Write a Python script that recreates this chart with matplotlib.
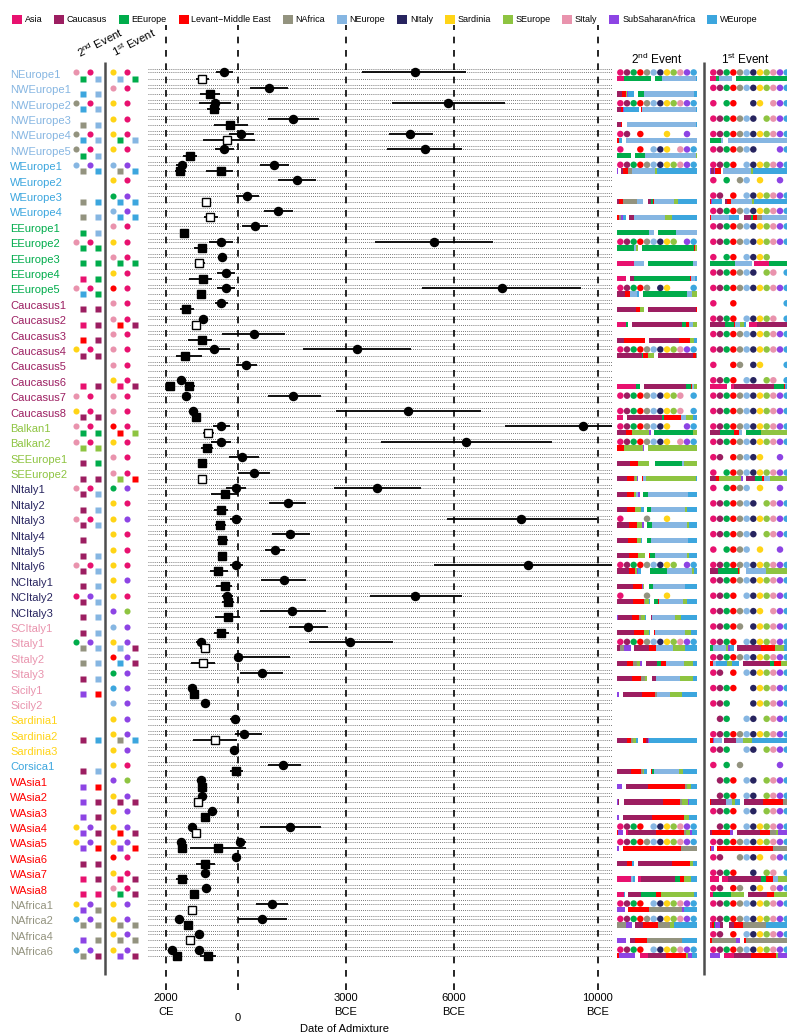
import matplotlib.pyplot as plt
from matplotlib.patches import Patch

plt.rcParams['font.family'] = ['Liberation Sans', 'DejaVu Sans']
plt.rcParams['mathtext.fontset'] = 'custom'
plt.rcParams['mathtext.rm'] = 'Liberation Sans'

# donor regions: one-letter code, legend name, colour
region_code = list('acelnoisgpfw')
region_name = ['Asia', 'Caucasus', 'EEurope', 'Levant\u2212Middle East', 'NAfrica', 'NEurope',
               'NItaly', 'Sardinia', 'SEurope', 'SItaly', 'SubSaharanAfrica', 'WEurope']
region_color = ['#E8116F', '#9C1E61', '#00AC4B', '#FF0000', '#93937F', '#86B6E2',
                '#27245F', '#FFD416', '#8EC441', '#E993AD', '#8D44E4', '#3CA6DE']
col = dict(zip(region_code, region_color))

populations = ['NEurope1', 'NWEurope1', 'NWEurope2', 'NWEurope3', 'NWEurope4', 'NWEurope5',
               'WEurope1', 'WEurope2', 'WEurope3', 'WEurope4',
               'EEurope1', 'EEurope2', 'EEurope3', 'EEurope4', 'EEurope5',
               'Caucasus1', 'Caucasus2', 'Caucasus3', 'Caucasus4', 'Caucasus5', 'Caucasus6',
               'Caucasus7', 'Caucasus8', 'Balkan1', 'Balkan2', 'SEEurope1', 'SEEurope2',
               'NItaly1', 'NItaly2', 'NItaly3', 'NItaly4', 'NItaly5', 'NItaly6',
               'NCItaly1', 'NCItaly2', 'NCItaly3', 'SCItaly1', 'SItaly1', 'SItaly2', 'SItaly3',
               'Sicily1', 'Sicily2', 'Sardinia1', 'Sardinia2', 'Sardinia3', 'Corsica1',
               'WAsia1', 'WAsia2', 'WAsia3', 'WAsia4', 'WAsia5', 'WAsia6', 'WAsia7', 'WAsia8',
               'NAfrica1', 'NAfrica2', 'NAfrica4', 'NAfrica6']
label_region = 'oooooo' + 'wwww' + 'eeeee' + 'cccccccc' + 'gggg' + 'iiiiiiiii' + 'pppppp' + 'sss' + 'w' + 'llllllll' + 'nnnn'

# best-matching sources: circle1 circle2 square1 square2 ('.' = none)
second_src = ['paeo', '..wo', 'nawo', '..no', 'nawo', 'naeo', 'ofnw', '....', '..nw', '..no',
              '..eo', 'paee', '..ee', '..ae', 'pawe', '..cc', '..ac', '..lc', 'sacc', '....',
              '..ac', 'pa..', 'sacc', 'paee', 'pagg', '..ce', '..cc', 'paco', '..co', 'paco',
              '..c.', '..co', 'paco', '..co', 'afco', '..co', '..co', 'efno', '..no', '..co',
              '..fl', '....', '....', '..cw', '....', '..co', '..fl', '..fc', '..fc', 'sffc',
              'sffl', '..cc', '..ac', '..aa', 'sffn', 'wfnn', '..fn', 'wfnc']
first_src = ['saoe', 'pa..', 'sa..', 'sa..', 'saeo', 'sa..', 'ofnw', 'sa..', 'efww', 'ofww',
             'pa..', 'sa..', 'paee', 'sa..', 'la..', 'pa..', 'palc', 'pa..', 'pa..', 'pa..',
             'saac', 'pa..', 'pa..', 'lalg', 'sa..', 'pa..', 'pagl', 'ef..', 'sa..', 'sf..',
             'sa..', 'sa..', 'sa..', 'sf..', 'sa..', 'fg..', 'of..', 'sfoc', 'lfwc', 'ef..',
             'wf..', 'of..', 'sf..', 'sfnw', 'sf..', 'sa..', 'fg..', 'sfcc', 'sf..', 'sflc',
             'sffl', 'la..', 'saac', 'paec', 'sf..', 'sfnn', 'sfnn', 'sffc']

# admixture dates, years before 2000 CE: one-date fits (circles)
circ_row = [0, 0, 1, 2, 2, 3, 4, 4, 5, 5, 6, 6, 7, 8, 9, 10, 11, 11, 12, 13, 14, 14, 15, 16, 17,
            18, 18, 19, 20, 21, 21, 22, 22, 23, 23, 24, 24, 25, 26, 27, 27, 28, 29, 29, 30, 31,
            32, 32, 33, 34, 34, 35, 36, 37, 37, 38, 39, 40, 41, 42, 43, 44, 45, 46, 47, 48, 49,
            49, 50, 50, 51, 52, 53, 54, 55, 55, 56, 57, 57]
circ_mid = [1610, 6920, 2860, 1360, 7830, 3530, 2080, 6780, 1610, 7190, 440, 3000, 3640, 2250,
            3110, 2470, 1530, 7440, 1560, 1670, 1670, 9330, 1530, 1030, 2440, 1330, 5310, 2220,
            420, 560, 3530, 750, 6720, 1530, 11580, 1530, 8330, 2110, 2440, 1940, 5860, 3390,
            9860, 1940, 3440, 3030, 10060, 1940, 3280, 6920, 1690, 3500, 3940, 5110, 970, 2000,
            2670, 720, 1080, 1920, 2170, 1890, 3250, 970, 1000, 1280, 3440, 720, 2060, 420,
            1940, 1080, 1110, 2940, 2670, 360, 920, 170, 920]
circ_lo = [1390, 5440, 2330, 920, 6280, 2830, 1750, 6190, 1360, 6140, 280, 2610, 3110, 1940,
           2720, 2110, 1190, 5810, 1470, 1420, 1420, 7110, 1360, 920, 1560, 890, 3810, 1940,
           330, 470, 2830, 670, 4720, 1310, 9420, 1250, 5970, 1750, 2000, 1670, 4670, 2860,
           7810, 1780, 2940, 2750, 7440, 1780, 2640, 5670, 1560, 2610, 3420, 3970, 830, 1970,
           2060, 640, 970, 1780, 1920, 1780, 2830, 890, 920, 1200, 2610, 640, 1940, 330,
           1860, 1000, 1030, 2500, 2000, 280, 840, 110, 840]
circ_hi = [1860, 8330, 3390, 1810, 9420, 4250, 2440, 7420, 1890, 8220, 580, 3420, 4170, 2580,
           3530, 2830, 1860, 9080, 1670, 1920, 1920, 11530, 1720, 1170, 3310, 1780, 6810, 2530,
           500, 640, 4310, 860, 8750, 1780, 12600, 1810, 10720, 2580, 2890, 2220, 7080, 3890,
           11970, 2110, 4000, 3310, 12600, 2140, 3890, 8220, 1860, 4440, 4500, 6310, 1110, 3440,
           3250, 810, 1190, 2060, 2670, 2000, 3750, 1060, 1080, 1360, 4310, 810, 2220, 500,
           2030, 1170, 1200, 3390, 3360, 440, 1000, 230, 1000]

# two-date fits (squares); open squares where sq_fill is 0
sq_row = [0, 1, 2, 3, 4, 5, 6, 6, 8, 9, 10, 11, 12, 13, 14, 15, 16, 17, 18, 20, 20, 22, 23, 24,
          25, 26, 27, 28, 29, 30, 31, 32, 33, 34, 35, 36, 37, 38, 40, 43, 45, 46, 47, 48, 49,
          50, 50, 51, 52, 53, 54, 55, 56, 57, 57]
sq_mid = [1000, 1220, 1330, 1780, 1690, 670, 390, 1530, 1110, 1220, 500, 1000, 920, 1030, 970,
          560, 830, 1000, 530, 110, 640, 830, 1170, 1140, 1000, 1000, 1640, 1530, 1500, 1560,
          1560, 1440, 1640, 1720, 1720, 1530, 1080, 1030, 780, 1360, 1940, 1000, 890, 1080,
          830, 1440, 440, 1080, 440, 780, 720, 610, 670, 310, 1170]
sq_lo = [830, 940, 1140, 1330, 1030, 470, 250, 1110, 1030, 1060, 420, 780, 810, 640, 890,
         390, 750, 610, 280, 30, 530, 750, 1030, 970, 920, 890, 1250, 1330, 1360, 1420,
         1440, 1220, 1390, 1560, 1360, 1330, 940, 690, 690, 750, 1780, 920, 810, 1000,
         750, 670, 360, 830, 280, 700, 640, 530, 600, 250, 940]
sq_hi = [1190, 1500, 1500, 2280, 2470, 860, 560, 1860, 1190, 1440, 640, 1140, 1080, 1280, 1080,
         780, 940, 1280, 1000, 190, 810, 920, 1330, 1310, 1080, 1110, 2000, 1720, 1670, 1720,
         1690, 1720, 1830, 1890, 2060, 1750, 1220, 1360, 860, 1970, 2140, 1110, 970, 1170,
         920, 2220, 530, 1360, 610, 860, 800, 690, 750, 390, 1390]
sq_fill = [0, 1, 1, 1, 0, 1, 1, 1, 0, 0, 1, 1, 0, 1, 1, 1, 0, 1, 1, 1, 1, 1, 0, 1,
           1, 0, 1, 1, 1, 1, 1, 1, 1, 1, 1, 1, 0, 0, 1, 0, 1, 1, 0, 1, 0,
           1, 1, 1, 1, 1, 0, 1, 0, 1, 1]

# donor regions used per event (dots) and source make-up (bars, widths out of 80)
second_dots = ['acelnoisgpfw', '', 'acelnoisgpfw', '', 'aclsf', 'aloispfw', 'acelnoisgpfw', '',
               '', '', '', 'acelnoisgfw', '', '', 'acelnisw', '', '', '', 'acelnoisgpfw', '',
               '', 'acelnoisgpw', 'acelnoisgpw', 'acelnoisfw', 'acelnoispfw', '', '',
               '', '', 'ans', '', '', 'acelnoisgfw', '', 'ans', '', '',
               'acelnoisgpfw', '', '', '', '', '', '', '', '', '', '', '', 'aceloisgpfw',
               'acelnoisgpfw', '', '', '', 'aceloisgpfw', 'acelnoisgpfw', '', 'aceloisgpfw']
second_bars = ['a6.7 e27 _4.3 e7 o34 w1', 'c4.7 l4 g1 f1 w6 _4.3 e6 o50 w3',
               'c4 l1.7 f1.3 w15 _2 l1 o54 w1', 'c3.7 l1.7 _4.3 o69.3 w1', 'l2.3 w2.3 _4.3 o71',
               'e14 _4 e10 o51 g1', 'f0.7 _3.3 c2.3 l4.3 n4.3 o23 g2 w40', '',
               'c2.3 l4 n13.7 o5.7 _5.7 c2.7 e2.3 l1 o19.7 g4 w19',
               'l1.7 n2.7 f1.3 w3.3 _3 c5 o31 g6.7 w25.3', 'e32 o5 _4 e18 o21',
               'e17.3 o1.7 g2 _4 e51.7 l1.7 g1.7', 'a17 o10 _4 e45 o4',
               'a9 _4 c4 e56 l1.3 o4 w1.7', 'c8.3 l5 o6.7 w1.7 _4.3 e44 o5 g5',
               'c19 l4 g4 _4 c48 l1', 'a9 e1.7 _4.3 c50 e4 l3.3 o3.3 g4.3',
               'c6.7 l21.3 _4 c29.7 l11.3 g3.7 w3.3', 'c25 e1 l5 g6 _4 c35 l3 n1', '',
               'a19 e4 _4 c42 e5 l1 o1.7 g3.3', '', 'a6 _4 c35 e2 l17 o5 g7 w4',
               'c8.7 l6.3 g17 f1.7 _3.3 e39 g4', 'l7 g19 f1 _4 g49',
               'c12.7 l8.3 g11 _6 e27 o2 g13', 'c10 l6.7 n1.3 g1.7 f1.3 _4 l1 o2.7 g50.3 w1',
               'c10 l7 g2 o2.3 f1.3 _3 e5.3 o40 w9', 'c10 l8 g6 w2.7 _3.3 e4 o34.3 g2 w9.7',
               'c12 l8 g5 f1.7 _3.3 e5 o35 g2 w8', 'c11 l9 g4 w1 _5 e4 o37 w9',
               'c12 l9 g7 _4 l1 e5 o32.3 g2 w7.7', 'c12 l6.7 g2 f1 w3 _9 e17 o25.3 g2.3 w3.3',
               'c16 l8.7 f1.3 g1.3 _4.3 e4 o32 w9', 'c16 l11 n1.3 g3.7 w1 _4 e4 l1 o24 g4 w10',
               'f0.7 c14.3 l7 n2.3 g3.7 w1.3 _4.7 c1 o23 g6 w16',
               'c17 l10 g5 w1 _4 l1 o30 g6 w6', 'c3 n4 f7 _3 c15 l7.3 o16.7 g12.3 w11',
               'c10 l6 n4 g3 f2 _4 c11 e4 l5 o18 g9 w4', 'c15 l9 n4 g2 _5 c4 o24 g13 w4',
               'f1.7 _4.3 c19 l13 n2 o13 g12 w15', '', '',
               'c10 l4 n2 g3 w2 _5 l3 c2 f1 w48', '',
               'c14 l10 n2 g1 w3 _4 l1 e2 o25 g4 w14', 'f5 _4 c22 l37 n2 g4 w6',
               'f1 c1 _5 c39 l17 n2 g6 f1 w8', 'f2 _4 c29 l32 g5 w8',
               'l1 f5 _3 a2 c27.7 l28.3 n2 g4 f2 w5', 'f2 _4 l58 n16',
               'c10 l5 w2 _4 c34 l18 g3 w4', 'a14 o1.7 w2.3 _3 a3 c34 e5 l4 g7 w6',
               'a6.7 w1 _3.3 c13 e15 l5 g33 w3', 'f8 _3 l21 n33 f2 w13',
               'n9 f6 _3 c8 l15 n12 g4 w23', 'f9 _4 c5 l12 n35 w15',
               'l2 f16 _5 a8 c18 l20 g2 f4 w5']
first_dots = ['acelnoisgpfw', 'acelnoisgpfw', 'aelispfw', 'acelnoigpfw', 'acelnoisgpfw',
              'acelnoifw', 'aceloisgpfw', 'aenosf', 'acloisgpfw', 'acelnoisgpfw',
              'acelnoisgpfw', 'acelnoisgpfw', 'aeloisg', 'acelnoigpw', 'acelnoisgpfw', 'alw',
              'aceloisgpw', 'acelnoisgpfw', 'acelnoisgpfw', 'alnisw', 'aceloigpw',
              'acelnoisgpfw', 'acelnoisgpfw', 'acelnoisgpfw', 'acelnoisgpfw', 'aclnoisf',
              'aelnoisgpfw', 'aelnosf', 'acelnoigpfw', 'acelnoisgpfw', 'acelnoigpfw', 'aelnosf',
              'acelnoisgpfw', 'acelnoisgpfw', 'aceloisgpfw', 'acelnoispfw', 'acelnisgpfw',
              'aceloisgpfw', 'acelnoisgpfw', 'acloisgpfw', 'acelisgpfw', 'aceisgpfw', 'ceoigpfw',
              'acelnoisgpfw', 'aceoigpfw', 'aenf', 'celoigpfw', 'celoigpfw', 'aceloigpfw',
              'celoisgpfw', 'acelnoisgpfw', 'acnoispfw', 'aceligpw', 'aclnispfw',
              'acelnoisgpfw', 'acelnoisgpfw', 'acloisgpfw', 'acelnoisgpfw']
first_bars = ['a6 e3 o12.7 _4.3 e54', '', '', '', 'e10.7 o2 _5.7 o61.6', '',
              'f1 c3 f1 l5.7 _2.3 o28 g1.7 w37.3', '', 'l1 f1 w9.7 _3.3 c2 l4 o21.3 g1.7 w36',
              'l1 o18.3 w10 _4.7 c7 e2.3 l3.3 n5.7 o26.4 w1.3', '', '', 'e24.7 o17.3 _2 a15 e21',
              '', '', '', 'c15 e8.7 l1.3 o5 g3.7 w2.3 _3 a7.7 c33.3', '', '', '',
              'a17 _4 a2.7 c40.7 e9.3 l1.7 w4.6', '', '', 'c10 e13.7 l5 o3 _4 e15.3 g29', '',
              '', 'c6 l2.7 g22.3 f1.7 _3 c9.3 e6.7 l2.3 o6 g20', '', '', '', '', '',
              'c8 e19.7 l1.3 g1 _5.7 o20 g24.3', '', '', '', '',
              'e2.7 o13.3 g2 f2.3 w3.3 _3.3 c24 l14.3 g8.3 w6.5',
              'l2.7 o3.3 w11 g5 w6.7 _4.3 c26.7 e4.7 l6.7 g8.2', '', '', '', '',
              'l2.7 f1 o8 _2.3 c11.7 o7.7 g9 w37.6', '', '', '',
              'l1 c15 o6 g3 w5.3 _4 c18.3 l20 n7.4', '', 'c2 l18 f3 _4 c23 l10 n6 g2 f12',
              'l1.3 f2.3 _3.3 l56 n17', '', 'a8.7 _3.3 a6 c33 e4.7 l7.3 o5 g12',
              'a3 e18 g12.7 _4.3 c19 l6.7 g16.3', '', 'a2 l2 e1 f5 c3 _6 c5 l9 n23 w24',
              'l2 n24 f4 _4 l2 n44', 'f10 _4 a10 c17 l25 g2 f12']

tick_years = [0, 2000, 5000, 8000, 12000]
tick_labels = ['2000\nCE', '0', '3000\nBCE', '6000\nBCE', '10000\nBCE']

# ---- layout (pixels of the 787 x 1035 canvas) ----
W, H = 787.0, 1035.0
TOP, BOT = 25.0, 990.0
ROW0, PITCH = 74.0, 15.39
C_OFF, S_OFF = -0.1, 0.3
n = len(populations)

fig = plt.figure(figsize=(W / 100, H / 100), dpi=100)


def strip(x0, x1):
    ax = fig.add_axes([x0 / W, 1 - BOT / H, (x1 - x0) / W, (BOT - TOP) / H])
    ax.set_ylim((BOT - ROW0) / PITCH, (TOP - ROW0) / PITCH)
    ax.axis('off')
    return ax


# ---- dates panel ----
ax = strip(148, 612)
ax.set_xlim(-500, 12390)
for i in range(n):
    ax.hlines([i + C_OFF - 0.2, i + C_OFF, i + S_OFF], -500, 12390,
              colors='0.3', linestyles=(0, (1, 1.5)), lw=0.6, zorder=1)
for t in tick_years:
    ax.axvline(t, color='black', ls=(0, (4, 4)), lw=1.2, zorder=2)
for r, m, lo, hi in zip(circ_row, circ_mid, circ_lo, circ_hi):
    ax.hlines(r + C_OFF, lo, hi, color='black', lw=1.3, zorder=3)
    ax.plot(m, r + C_OFF, 'o', ms=5.8, color='black', zorder=4)
for r, m, lo, hi, f in zip(sq_row, sq_mid, sq_lo, sq_hi, sq_fill):
    ax.hlines(r + S_OFF, lo, hi, color='black', lw=1.3, zorder=3)
    ax.plot(m, r + S_OFF, 's', ms=5.5, mfc='black' if f else 'white', mec='black',
            mew=1.0, zorder=4)
for t, lab in zip(tick_years, tick_labels):
    yy = -0.029 if lab == '0' else -0.0155
    ax.text(t, yy, lab, transform=ax.get_xaxis_transform(), ha='center', va='center',
            fontsize=8, linespacing=1.45, clip_on=False)
fig.text(345 / W, 1 - 1029 / H, 'Date of Admixture', ha='center', va='center', fontsize=8)

# ---- population labels and source markers ----
left = strip(0, 148)
left.set_xlim(0, 148)
for i, (name, reg) in enumerate(zip(populations, label_region)):
    left.text(10, i + 0.06, name, color=col[reg], fontsize=8, va='center', ha='left')
for x0, srcs in ((76, second_src), (113, first_src)):
    for i, s in enumerate(srcs):
        for k, (c, dx, mk, dy) in enumerate(zip(s, (0, 14, 7, 22), 'oo' + 'ss',
                                                (C_OFF, C_OFF, S_OFF, S_OFF))):
            if c != '.':
                left.plot(x0 + dx, i + dy, mk, ms=4.4 if mk == 'o' else 4.0,
                          color=col[c], mec='none')
left.plot([105, 105], [-0.78, 58.55], color='#4D4D4D', lw=1.8, solid_capstyle='butt')
left.text(81, -0.9, '2$^{\\mathrm{nd}}$ Event', rotation=27, rotation_mode='anchor',
          ha='left', va='bottom', fontsize=8.2)
left.text(116, -1.0, '1$^{\\mathrm{st}}$ Event', rotation=27, rotation_mode='anchor',
          ha='left', va='bottom', fontsize=8.2)


# ---- right-hand panels: donor dots and source bars ----
def draw_panel(pax, dots, bars):
    pax.set_xlim(0, 12)
    for i, d in enumerate(dots):
        xs = [region_code.index(c) + 0.5 for c in d]
        pax.scatter(xs, [i + C_OFF] * len(xs), s=22, c=[col[c] for c in d],
                    linewidths=0, zorder=3)
    for i, spec in enumerate(bars):
        if not spec:
            continue
        segs = [(t[0], float(t[1:])) for t in spec.split()]
        total = sum(w for _, w in segs)
        scale = 12 / max(total, 80.0)
        left_edge = 0.0
        for code, w in segs:
            w = w * scale
            if code != '_':
                pax.barh(i + S_OFF, w, left=left_edge, height=0.34, color=col[code],
                         linewidth=0, zorder=2)
            left_edge += w
        if left_edge < 12 and segs[-1][0] != '_':
            pax.barh(i + S_OFF, 12 - left_edge, left=left_edge, height=0.34,
                     color=col[segs[-1][0]], linewidth=0, zorder=2)


p2 = strip(617, 697)
draw_panel(p2, second_dots, second_bars)
p2.text(5.9, -0.95, '2$^{\\mathrm{nd}}$ Event', ha='center', va='center', fontsize=8.5)

p1 = strip(710, 790)
draw_panel(p1, first_dots, first_bars)
p1.text(5.3, -0.95, '1$^{\\mathrm{st}}$ Event', ha='center', va='center', fontsize=8.5)
p1.plot([-0.9, -0.9], [-0.78, 58.55], color='#4D4D4D', lw=1.8, clip_on=False,
        solid_capstyle='butt')

# ---- legend ----
handles = [Patch(facecolor=c, edgecolor='none') for c in region_color]
fig.legend(handles, region_name, loc='upper left', bbox_to_anchor=(12 / W, 1 - 15 / H),
           ncol=12, frameon=False, fontsize=6.5, handlelength=1.1, handleheight=1.1,
           handletextpad=0.3, columnspacing=1.32, borderaxespad=0, borderpad=0)

fig.savefig('out.png', dpi=100, facecolor='white')
